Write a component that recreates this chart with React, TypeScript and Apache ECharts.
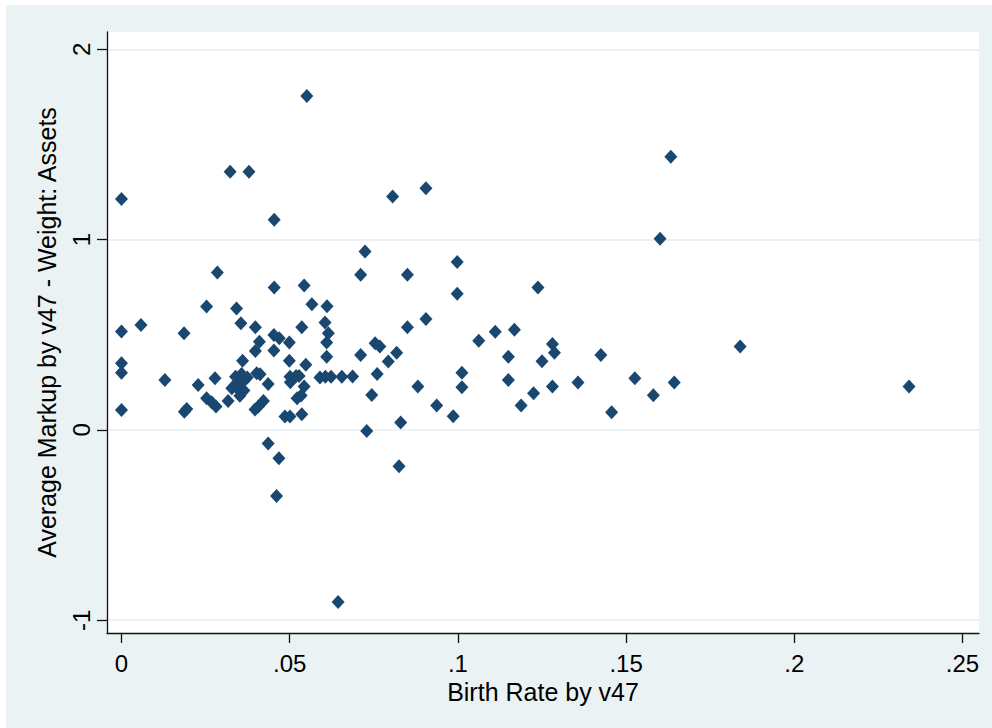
import React, { useEffect, useRef } from "react";
import * as echarts from "echarts";

// Birth Rate by v47 (x) and Average Markup by v47 - Weight: Assets (y)
const birthRate = [
  0, 0, 0, 0, 0, 0.0058, 0.0129, 0.0186, 0.0187, 0.0194,
  0.0228, 0.0253, 0.0253, 0.0268, 0.0281, 0.0278, 0.0285, 0.0317, 0.0323, 0.0379,
  0.0342, 0.0355, 0.036, 0.0339, 0.0357, 0.0374, 0.0342, 0.0362, 0.0328, 0.0347,
  0.0364, 0.0352, 0.0398, 0.041, 0.0398, 0.0402, 0.0412, 0.0436, 0.0422, 0.0407,
  0.0397, 0.0436, 0.0454, 0.0454, 0.0453, 0.0469, 0.0453, 0.0468, 0.0461, 0.0499,
  0.0499, 0.0501, 0.0519, 0.0502, 0.0528, 0.0543, 0.0522, 0.0534, 0.0486, 0.0501,
  0.0536, 0.0536, 0.0543, 0.0548, 0.0551, 0.0566, 0.0611, 0.0605, 0.0615, 0.061,
  0.061, 0.059, 0.0606, 0.0623, 0.0655, 0.0687, 0.0644, 0.0711, 0.0724, 0.0711,
  0.0729, 0.0744, 0.0754, 0.0768, 0.076, 0.0793, 0.0818, 0.0806, 0.0825, 0.083,
  0.085, 0.085, 0.0881, 0.0905, 0.0905, 0.0937, 0.0986, 0.0998, 0.0998, 0.1012,
  0.1012, 0.1062, 0.1111, 0.1168, 0.115, 0.115, 0.1188, 0.1225, 0.1238, 0.125,
  0.1281, 0.1287, 0.1281, 0.1357, 0.1425, 0.1457, 0.1526, 0.1581, 0.1601, 0.1633,
  0.1643, 0.1839, 0.2341,
];
const markup = [
  1.214, 0.517, 0.35, 0.301, 0.105, 0.552, 0.263, 0.508, 0.096, 0.11,
  0.236, 0.649, 0.167, 0.145, 0.123, 0.272, 0.827, 0.152, 1.357, 1.357,
  0.638, 0.561, 0.364, 0.28, 0.294, 0.275, 0.245, 0.254, 0.219, 0.214,
  0.207, 0.179, 0.539, 0.464, 0.415, 0.298, 0.292, 0.242, 0.152, 0.123,
  0.108, -0.071, 1.104, 0.749, 0.499, 0.482, 0.418, -0.149, -0.347, 0.46,
  0.364, 0.28, 0.284, 0.25, 0.284, 0.228, 0.167, 0.181, 0.07, 0.071,
  0.083, 0.539, 0.759, 0.342, 1.755, 0.661, 0.65, 0.564, 0.508, 0.46,
  0.384, 0.276, 0.279, 0.279, 0.279, 0.281, -0.904, 0.815, 0.937, 0.394,
  -0.005, 0.184, 0.456, 0.438, 0.294, 0.36, 0.406, 1.226, -0.191, 0.039,
  0.816, 0.54, 0.228, 1.27, 0.583, 0.128, 0.072, 0.883, 0.716, 0.3,
  0.224, 0.469, 0.516, 0.527, 0.384, 0.263, 0.128, 0.193, 0.749, 0.361,
  0.452, 0.406, 0.228, 0.249, 0.394, 0.093, 0.272, 0.182, 1.004, 1.436,
  0.249, 0.438, 0.228,
];

const xTicks = [0, 0.05, 0.1, 0.15, 0.2, 0.25];
const xTickLabels = ["0", ".05", ".1", ".15", ".2", ".25"];
const yTicks = [-1, 0, 1, 2];
const yTickLabels = ["-1", "0", "1", "2"];

const FONT = "'Liberation Sans', Arial, sans-serif";

function labelFor(v: number, ticks: number[], labels: string[]) {
  let best = 0;
  for (let i = 0; i < ticks.length; i++) {
    if (Math.abs(ticks[i] - v) < Math.abs(ticks[best] - v)) best = i;
  }
  return labels[best];
}

export default function App() {
  const ref = useRef<HTMLDivElement>(null);
  useEffect(() => {
    document.body.style.margin = "0";
    const chart = echarts.init(ref.current!, null, { renderer: "svg" });
    const data = birthRate.map((x, i) => [x, markup[i]]);
    chart.setOption({
      animation: false,
      backgroundColor: "transparent",
      grid: {
        left: 107,
        right: 13,
        top: 32,
        bottom: 95,
        show: true,
        backgroundColor: "#ffffff",
        borderWidth: 0,
      },
      xAxis: {
        type: "value",
        min: -0.0043,
        max: 0.2549,
        name: "Birth Rate by v47",
        nameLocation: "middle",
        nameGap: 43,
        nameTextStyle: { fontFamily: FONT, fontSize: 25, color: "#000" },
        axisLine: { show: true, onZero: false, lineStyle: { color: "#111", width: 1.3 } },
        axisTick: {
          show: true,
          length: 10,
          customValues: xTicks,
          lineStyle: { color: "#111", width: 1.3 },
        },
        axisLabel: {
          customValues: xTicks,
          formatter: (v: number) => labelFor(v, xTicks, xTickLabels),
          margin: 18,
          fontFamily: FONT,
          fontSize: 24,
          color: "#000",
        },
        splitLine: { show: false },
      },
      yAxis: {
        type: "value",
        min: -1.067,
        max: 2.091,
        name: "Average Markup by v47 - Weight: Assets",
        nameLocation: "middle",
        nameGap: 48,
        nameTextStyle: { fontFamily: FONT, fontSize: 25, color: "#000" },
        axisLine: { show: true, onZero: false, lineStyle: { color: "#111", width: 1.3 } },
        axisTick: {
          show: true,
          length: 10,
          customValues: yTicks,
          lineStyle: { color: "#111", width: 1.3 },
        },
        axisLabel: {
          customValues: yTicks,
          formatter: (v: number) => labelFor(v, yTicks, yTickLabels),
          rotate: 90,
          margin: 14,
          fontFamily: FONT,
          fontSize: 24,
          color: "#000",
        },
        splitLine: { show: true, lineStyle: { color: "#E6EEF1", width: 1.5 } },
      },
      series: [
        {
          type: "scatter",
          data,
          symbol: "diamond",
          symbolSize: [13, 14],
          itemStyle: { color: "#1A476F", opacity: 1 },
        },
      ],
    });
    return () => chart.dispose();
  }, []);

  return (
    <div style={{ position: "relative", width: 992, height: 728, background: "#ffffff" }}>
      <div
        style={{
          position: "absolute",
          left: 6,
          top: 5,
          width: 986,
          height: 723,
          background: "#EAF2F3",
        }}
      />
      <div ref={ref} style={{ position: "absolute", left: 0, top: 0, width: 992, height: 728 }} />
    </div>
  );
}
